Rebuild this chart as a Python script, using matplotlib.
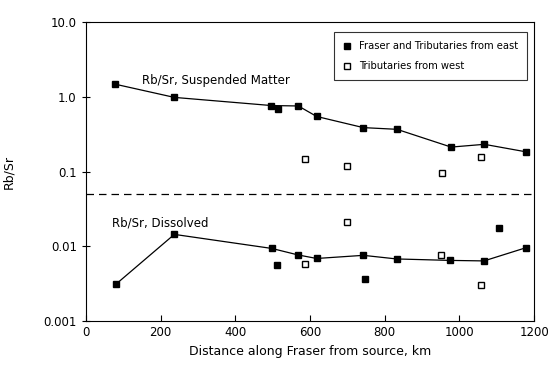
import numpy as np
import matplotlib
matplotlib.use('Agg')
import matplotlib.pyplot as plt
from matplotlib.lines import Line2D

# Suspended matter, main stem (line)
susp_x = [78, 237, 497, 569, 618, 743, 833, 978, 1067, 1178]
susp_y = [1.49, 0.99, 0.77, 0.76, 0.55, 0.39, 0.37, 0.214, 0.233, 0.185]
# Suspended matter, eastern tributary off the line
susp_east_x = [514]
susp_east_y = [0.69]
# Suspended matter, western tributaries
susp_west_x = [587, 698, 953, 1058]
susp_west_y = [0.148, 0.12, 0.095, 0.156]

# Dissolved, main stem (line)
diss_x = [80, 237, 498, 568, 618, 743, 832, 976, 1066, 1178]
diss_y = [0.0031, 0.0145, 0.0094, 0.0077, 0.0069, 0.0076, 0.0068, 0.0065, 0.0064, 0.0096]
# Dissolved, eastern tributaries off the line
diss_east_x = [513, 748, 1107]
diss_east_y = [0.0056, 0.0037, 0.0178]
# Dissolved, western tributaries
diss_west_x = [587, 698, 951, 1058]
diss_west_y = [0.0059, 0.0214, 0.0077, 0.0030]

divider = 0.05

fig = plt.figure(figsize=(5.5, 3.67), dpi=100)
ax = fig.add_axes([0.156, 0.125, 0.815, 0.814])

ms = 5
ax.plot(susp_x, susp_y, '-s', color='black', lw=0.9, ms=ms)
ax.plot(susp_east_x, susp_east_y, 's', color='black', ms=ms)
ax.plot(susp_west_x, susp_west_y, 's', mfc='white', mec='black', mew=1.0, ms=ms)

ax.plot(diss_x, diss_y, '-s', color='black', lw=0.9, ms=ms)
ax.plot(diss_east_x, diss_east_y, 's', color='black', ms=ms)
ax.plot(diss_west_x, diss_west_y, 's', mfc='white', mec='black', mew=1.0, ms=ms)

ax.axhline(divider, color='black', lw=0.9, ls=(0, (6, 4)))

ax.text(150, 1.69, 'Rb/Sr, Suspended Matter', fontsize=8.5, va='center')
ax.text(70, 0.0208, 'Rb/Sr, Dissolved', fontsize=8.5, va='center')

ax.set_yscale('log')
ax.set_ylim(0.001, 10)
ax.set_xlim(0, 1200)
ax.set_xticks(np.arange(0, 1201, 200))
ax.set_yticks([0.001, 0.01, 0.1, 1, 10])
ax.set_yticklabels(['0.001', '0.01', '0.1', '1.0', '10.0'])
ax.yaxis.set_minor_locator(matplotlib.ticker.NullLocator())
ax.tick_params(axis='y', direction='inout', length=6, labelsize=8.5)
ax.tick_params(axis='x', direction='in', length=4, labelsize=8.5)
ax.set_xlabel('Distance along Fraser from source, km', fontsize=9)
ax.set_ylabel('Rb/Sr', fontsize=9, labelpad=20)

handles = [
    Line2D([], [], ls='none', marker='s', color='black', ms=ms),
    Line2D([], [], ls='none', marker='s', mfc='white', mec='black', mew=1.0, ms=ms),
]
labels = ['Fraser and Tributaries from east', 'Tributaries from west']
leg = ax.legend(handles, labels, loc='upper right', fontsize=7.2, frameon=True,
                fancybox=False, edgecolor='black', handlelength=0.8,
                handletextpad=0.8, labelspacing=1.0, borderpad=0.9,
                bbox_to_anchor=(0.996, 0.984))
leg.get_frame().set_linewidth(0.8)

fig.savefig('out.png', dpi=100)
